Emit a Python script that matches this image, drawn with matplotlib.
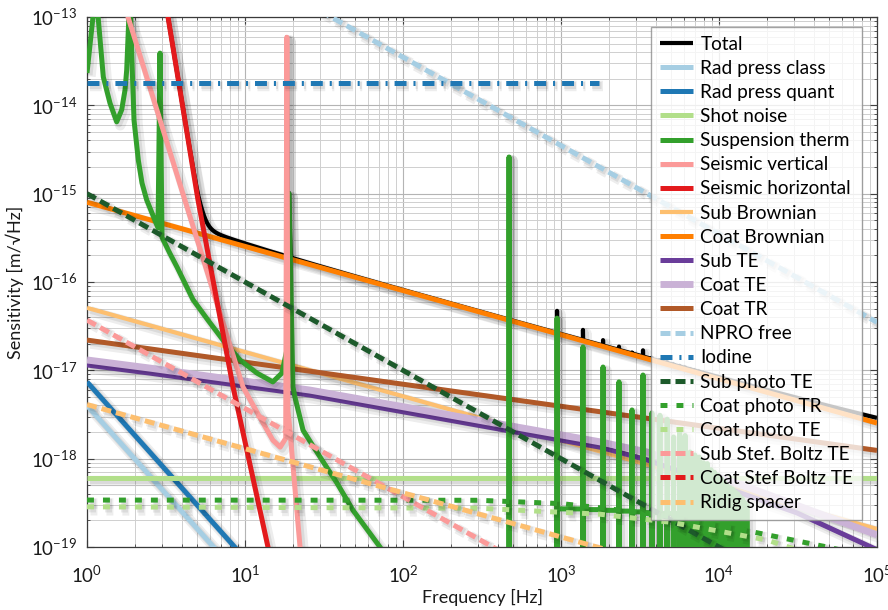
import numpy as np
import matplotlib
matplotlib.use("Agg")
import matplotlib.pyplot as plt
import matplotlib.patheffects as pe
from matplotlib.ticker import LogLocator, LogFormatterMathtext, NullFormatter

# ---------------- noise budget (frequency [Hz], amplitude [m/sqrt(Hz)]) ----------------
f_rp = [1.0, 10.0]
rad_press_class = [4.0e-18, 4.0e-20]
rad_press_quant = [7.4e-18, 7.4e-20]

f_span = [1.0, 1.0e5]
shot_noise = [6.1e-19, 6.1e-19]
coat_brownian = [8.0e-16, 2.53e-18]
sub_brownian = [5.1e-17, 1.6e-19]
coat_tr = [2.2e-17, 1.24e-18]
sub_photo_te = [1.0e-15, 1.0e-20]
ridig_spacer = [4.1e-18, 1.3e-20]

f_sbte = [1.0, 1.0e3]
sub_stef_boltz = [3.7e-17, 3.7e-20]

f_npro = [30.0, 1.0e5]
npro_free = [1.17e-13, 3.5e-17]

f_iodine = [1.0, 1750.0]
iodine = [1.8e-14, 1.8e-14]

f_sub_te = [1.0, 2.5, 25.7, 1766.0, 3500.0, 31170.0, 1.0e5]
sub_te = [1.15e-17, 9.3e-18, 5.25e-18, 1.35e-18, 9.7e-19, 2.43e-19, 9.3e-20]

f_coat_te = [1.0, 2.5, 25.7, 1766.0, 3500.0, 15030.0, 1.0e5]
coat_te = [1.31e-17, 1.06e-17, 5.98e-18, 1.55e-18, 1.19e-18, 4.8e-19, 1.37e-19]

f_cp_tr = [1.0, 300.0, 1000.0, 1766.0, 4200.0, 14200.0, 48300.0, 1.0e5]
coat_photo_tr = [3.4e-19, 3.38e-19, 3.1e-19, 2.78e-19, 2.3e-19, 1.56e-19, 1.0e-19, 7.5e-20]

f_cp_te = [1.0, 300.0, 1766.0, 5000.0, 20100.0, 30000.0, 1.0e5]
coat_photo_te = [2.85e-19, 2.75e-19, 2.35e-19, 1.9e-19, 1.2e-19, 9.5e-20, 4.0e-20]

f_seis_h = [1.0, 3.0, 3.256, 5.04, 8.4, 13.98, 15.5]
seismic_h = [1.0e-10, 2.5e-13, 1.0e-13, 8.5e-16, 6.5e-18, 1.0e-19, 4.0e-20]

f_seis_v = [1.0, 1.818, 9.7, 12.4, 15.0, 16.7, 18.1, 18.4, 18.7, 19.2, 22.3, 24.0]
seismic_v = [3.1e-12, 1.0e-13, 6.5e-18, 2.95e-18, 1.62e-18, 1.35e-18, 1.7e-18,
             5.9e-14, 3.5e-18, 2.2e-18, 1.0e-19, 2.5e-20]

# suspension thermal noise: pendulum modes below 100 Hz
f_susp = [1.0, 1.137, 1.268, 1.398, 1.542, 1.658, 1.740, 1.783, 1.870, 1.941,
          1.984, 2.112, 2.229, 2.387, 2.615, 2.815, 2.898, 2.984, 3.35, 3.71,
          4.69, 5.83, 7.26, 9.3, 11.9, 15.0, 17.1, 18.4, 19.0, 20.1, 20.7,
          23.3, 29.8, 38.2, 48.3, 71.5, 100.0]
susp = [2.32e-14, 2.0e-13, 2.1e-14, 1.06e-14, 6.5e-15, 8.9e-15, 1.49e-14, 2.5e-14,
        2.0e-13, 2.1e-14, 6.8e-15, 2.4e-15, 1.32e-15, 8.5e-16, 5.7e-16, 4.1e-16,
        3.9e-14, 3.2e-16, 2.1e-16, 1.48e-16, 6.3e-17, 3.7e-17, 2.2e-17, 1.31e-17,
        9.3e-18, 7.4e-18, 9.3e-18, 1.7e-17, 1.0e-15, 6.5e-18, 5.0e-18, 2.1e-18,
        1.05e-18, 5.3e-19, 2.6e-19, 1.0e-19, 4.0e-20]
# violin modes of the suspension fibres
violin_f = [469, 944, 1377, 1845, 2328, 2813, 3303, 3760, 4230, 4700, 5160, 5630,
            6100, 6570, 7040, 7500, 7970, 8440, 8910, 9380, 9850, 10320, 10790,
            11260, 11730, 12200, 12670, 13140, 13610, 14080, 14550, 15020]
violin_peak = [2.6e-15, 3.9e-17, 1.84e-17, 1.09e-17, 7.4e-18, 3.56e-18, 8.85e-18,
               3.3e-18, 3.1e-18, 2.8e-18, 1.76e-18, 2.0e-18, 1.83e-18, 1.19e-18,
               1.1e-18, 1.04e-18, 9.0e-19, 8.8e-19, 7.5e-19, 7.0e-19, 6.5e-19,
               6.0e-19, 5.5e-19, 5.0e-19, 4.7e-19, 4.5e-19, 4.2e-19, 4.0e-19,
               3.7e-19, 3.5e-19, 3.2e-19, 3.0e-19]
violin_floor = [5.0e-20, 2.7e-19, 2.65e-19, 2.6e-19, 2.55e-19, 2.5e-19, 2.45e-19,
                2.45e-19, 2.4e-19, 2.4e-19, 2.4e-19, 2.35e-19, 2.35e-19, 2.3e-19,
                2.3e-19, 2.3e-19, 2.25e-19, 2.25e-19, 2.2e-19, 2.2e-19, 2.2e-19,
                2.15e-19, 2.15e-19, 2.1e-19, 2.1e-19, 2.1e-19, 2.05e-19, 2.0e-19,
                2.0e-19, 1.9e-19, 1.8e-19, 5.0e-20]

labels = ["Total", "Rad press class", "Rad press quant", "Shot noise",
          "Suspension therm", "Seismic vertical", "Seismic horizontal",
          "Sub Brownian", "Coat Brownian", "Sub TE", "Coat TE", "Coat TR",
          "NPRO free", "Iodine", "Sub photo TE", "Coat photo TR", "Coat photo TE",
          "Sub Stef. Boltz TE", "Coat Stef Boltz TE", "Ridig spacer"]


def suspension_curve():
    f = list(f_susp)
    v = list(susp)
    n = len(violin_f)
    for i in range(n):
        fs, pk, fl = violin_f[i], violin_peak[i], violin_floor[i]
        f += [fs * 0.997, fs, fs * 1.003]
        v += [1e-21, pk, 1e-21]
        nxt = violin_f[i + 1] * 0.994 if i + 1 < n else fs * 1.05
        if nxt > fs * 1.006:
            f += [fs * 1.006, nxt]
            v += [fl, fl]
    return np.array(f), np.array(v)


f_susp_all, susp_all = suspension_curve()

# quadrature sum of all displacement noise terms
components = [
    (f_rp, rad_press_class), (f_rp, rad_press_quant), (f_span, shot_noise),
    (f_susp_all, susp_all), (f_seis_v, seismic_v), (f_seis_h, seismic_h),
    (f_span, sub_brownian), (f_span, coat_brownian), (f_sub_te, sub_te),
    (f_coat_te, coat_te), (f_span, coat_tr), (f_span, sub_photo_te),
    (f_cp_tr, coat_photo_tr), (f_cp_te, coat_photo_te), (f_sbte, sub_stef_boltz),
    (f_span, ridig_spacer),
]
grid = np.unique(np.concatenate([np.geomspace(1, 1e5, 4000)] +
                                [np.asarray(c[0], float) for c in components]))
lg = np.log10(grid)
power = np.zeros_like(grid)
for fp, vp in components:
    lfp, lvp = np.log10(np.asarray(fp, float)), np.log10(np.asarray(vp, float))
    m = (lg >= lfp[0]) & (lg <= lfp[-1])
    part = np.zeros_like(grid)
    part[m] = 10 ** np.interp(lg[m], lfp, lvp)
    power += part ** 2
total = np.sqrt(power)

# ---------------- figure ----------------
plt.rcParams["font.family"] = ["Lato", "DejaVu Sans"]
plt.rcParams["mathtext.fontset"] = "custom"
plt.rcParams["mathtext.rm"] = "Lato"
plt.rcParams["mathtext.it"] = "Lato:italic"
plt.rcParams["mathtext.bf"] = "Lato:bold"
plt.rcParams["lines.scale_dashes"] = False

fig = plt.figure(figsize=(8.88, 6.10), dpi=100)
ax = fig.add_axes([87 / 888, 1 - 547 / 610, 790 / 888, 530 / 610])

shadow = [pe.SimpleLineShadow(offset=(2.5, -2.5), shadow_color="k", alpha=0.07, linewidth=7.5),
          pe.SimpleLineShadow(offset=(1.5, -1.5), shadow_color="k", alpha=0.08, linewidth=5),
          pe.Normal()]

LW = 3.6
DASH = (0, (7.2, 3.6))
DOT = (0, (5.0, 6.5))
DASHDOT = (0, (8.6, 5.0, 1.5, 5.0))

series = [
    (grid, total, dict(color="black", lw=3.0, zorder=2)),
    (f_rp, rad_press_class, dict(color="#a6cee3", lw=LW, zorder=3)),
    (f_rp, rad_press_quant, dict(color="#1f78b4", lw=LW, zorder=3)),
    (f_span, shot_noise, dict(color="#b2df8a", lw=LW, zorder=3)),
    (f_susp_all, susp_all, dict(color="#33a02c", lw=LW, zorder=5)),
    (f_seis_v, seismic_v, dict(color="#fb9a99", lw=LW, zorder=6)),
    (f_seis_h, seismic_h, dict(color="#e31a1c", lw=LW, zorder=6)),
    (f_span, sub_brownian, dict(color="#fdbf6f", lw=3.0, zorder=4)),
    (f_span, coat_brownian, dict(color="#ff7f00", lw=LW, zorder=4)),
    (f_sub_te, sub_te, dict(color="#6a3d9a", lw=LW, zorder=4)),
    (f_coat_te, coat_te, dict(color="#cab2d6", lw=5.0, zorder=4)),
    (f_span, coat_tr, dict(color="#b15928", lw=LW, zorder=4)),
    (f_npro, npro_free, dict(color="#a6cee3", lw=LW, ls=DASH, zorder=7)),
    (f_iodine, iodine, dict(color="#1f78b4", lw=LW, ls=DASHDOT, zorder=7)),
    (f_span, sub_photo_te, dict(color="#1d5a2b", lw=LW, ls=DASH, zorder=7)),
    (f_cp_tr, coat_photo_tr, dict(color="#33a02c", lw=LW, ls=DOT, zorder=7)),
    (f_cp_te, coat_photo_te, dict(color="#b2df8a", lw=LW, ls=DOT, zorder=7)),
    (f_sbte, sub_stef_boltz, dict(color="#fb9a99", lw=LW, ls=DASH, zorder=7)),
    ([], [], dict(color="#e31a1c", lw=LW, ls=DASH, zorder=7)),
    (f_span, ridig_spacer, dict(color="#fdbf6f", lw=LW, ls=DASH, zorder=7)),
]

handles = []
for (fx, vy, kw), lab in zip(series, labels):
    ln, = ax.loglog(fx, vy, label=lab, solid_capstyle="butt",
                    dash_capstyle="butt", path_effects=shadow, **kw)
    handles.append(ln)

ax.set_xlim(1, 1e5)
ax.set_ylim(1e-19, 1e-13)

ax.xaxis.set_major_locator(LogLocator(base=10, numticks=10))
ax.yaxis.set_major_locator(LogLocator(base=10, numticks=10))
ax.xaxis.set_minor_locator(LogLocator(base=10, subs=np.arange(2, 10), numticks=20))
ax.yaxis.set_minor_locator(LogLocator(base=10, subs=np.arange(2, 10), numticks=20))
ax.xaxis.set_major_formatter(LogFormatterMathtext())
ax.yaxis.set_major_formatter(LogFormatterMathtext())
ax.xaxis.set_minor_formatter(NullFormatter())
ax.yaxis.set_minor_formatter(NullFormatter())

ax.grid(True, which="major", color="#b4b4b4", lw=0.8)
ax.grid(True, which="minor", color="#cfcfcf", lw=0.7)
ax.set_axisbelow(True)
ax.tick_params(which="both", direction="in", top=True, right=True, colors="#404040",
               labelcolor="#1a1a1a", labelsize=13.5)
ax.tick_params(which="major", length=5, width=0.8)
ax.tick_params(axis="x", which="major", pad=13)
ax.tick_params(axis="y", which="major", pad=7)
ax.tick_params(which="minor", length=2.5, width=0.6)
for sp in ax.spines.values():
    sp.set_color("#3a3a3a")
    sp.set_linewidth(0.9)

ax.set_xlabel("Frequency [Hz]", fontsize=13, color="#1a1a1a", labelpad=2)
ax.set_ylabel("Sensitivity [m/\u221aHz]", fontsize=13, color="#1a1a1a", labelpad=5)

leg = ax.legend(handles=handles, loc="upper right", bbox_to_anchor=(0.981, 0.981),
                borderaxespad=0, fontsize=13.7, frameon=True, fancybox=False,
                framealpha=0.78, edgecolor="#8a8a8a", handlelength=1.75,
                handletextpad=0.4, labelspacing=0.375, borderpad=0.45)
leg.get_frame().set_linewidth(1.0)
leg.set_zorder(20)
for ln in leg.get_lines():
    ln.set_path_effects([])

fig.savefig("out.png", dpi=100)
